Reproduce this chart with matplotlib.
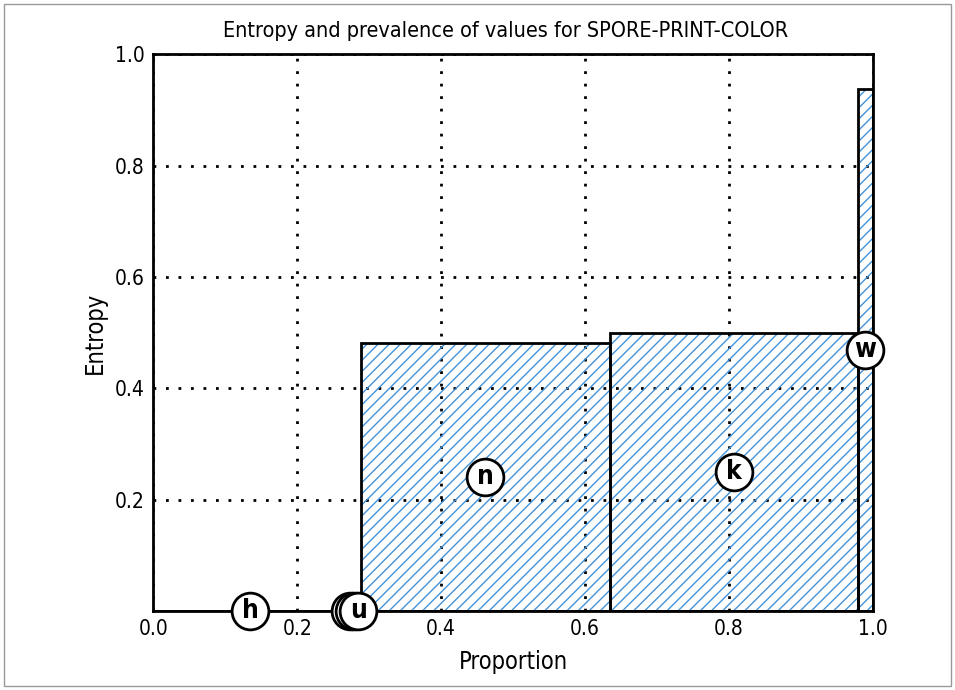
import matplotlib
matplotlib.use("Agg")
import matplotlib.pyplot as plt
from matplotlib.patches import Rectangle
import numpy as np

plt.rcParams['font.family'] = ['DejaVu Sans']
plt.rcParams['font.stretch'] = 'condensed'

categories = ['h', 'r', 'o', 'u', 'n', 'k', 'w']
proportions = [0.270, 0.006, 0.006, 0.006, 0.3473, 0.3441, 0.0206]
entropies = [0.0, 0.0, 0.0, 0.0, 0.482, 0.4986, 0.937]
xticks = [0.0, 0.2, 0.4, 0.6, 0.8, 1.0]
yticks = [0.2, 0.4, 0.6, 0.8, 1.0]
title = 'Entropy and prevalence of values for SPORE-PRINT-COLOR'

hatch_color = '#4393d9'

fig = plt.figure(figsize=(9.55, 6.9), dpi=100)
ax = fig.add_axes([0.1605, 0.1145, 0.7535, 0.807])

props = np.array(proportions)
ents = np.array(entropies)
lefts = np.concatenate([[0.0], np.cumsum(props)[:-1]])

# hatch layer
ax.bar(lefts, ents, width=props, align='edge', facecolor='none',
       edgecolor=hatch_color, hatch='///', linewidth=0, zorder=2)
# outline layer
ax.bar(lefts, ents, width=props, align='edge', fill=False,
       edgecolor='black', linewidth=2, zorder=3)

centers = lefts + props / 2
for i, (c, x, y) in enumerate(zip(categories, centers, ents / 2)):
    ax.scatter([x], [y], s=700, facecolor='white', edgecolor='black',
               linewidth=2, zorder=5 + 2 * i, clip_on=False)
    ax.text(x, y, c, ha='center', va='center', fontsize=19, fontweight='bold',
            zorder=6 + 2 * i, clip_on=False)

ax.set_xlim(0, 1)
ax.set_ylim(0, 1)
ax.set_xticks(xticks)
ax.set_yticks(yticks)
ax.set_xticklabels([f'{v:.1f}' for v in xticks])
ax.set_yticklabels([f'{v:.1f}' for v in yticks])
ax.tick_params(length=0, labelsize=15, pad=6)
ax.grid(True, color='black', linestyle=(0, (1, 3.5)), linewidth=2, zorder=1)
ax.set_axisbelow(True)
for s in ax.spines.values():
    s.set_linewidth(2)
    s.set_zorder(4)

ax.set_title(title, fontsize=15.5, pad=12, x=0.49)
ax.set_xlabel('Proportion', fontsize=17, labelpad=8)
ax.set_ylabel('Entropy', fontsize=17, labelpad=6)

fig.patches.append(Rectangle((0.004, 0.006), 0.992, 0.988, transform=fig.transFigure,
                             fill=False, edgecolor='#999999', linewidth=1))

fig.savefig('out.png', dpi=100)
